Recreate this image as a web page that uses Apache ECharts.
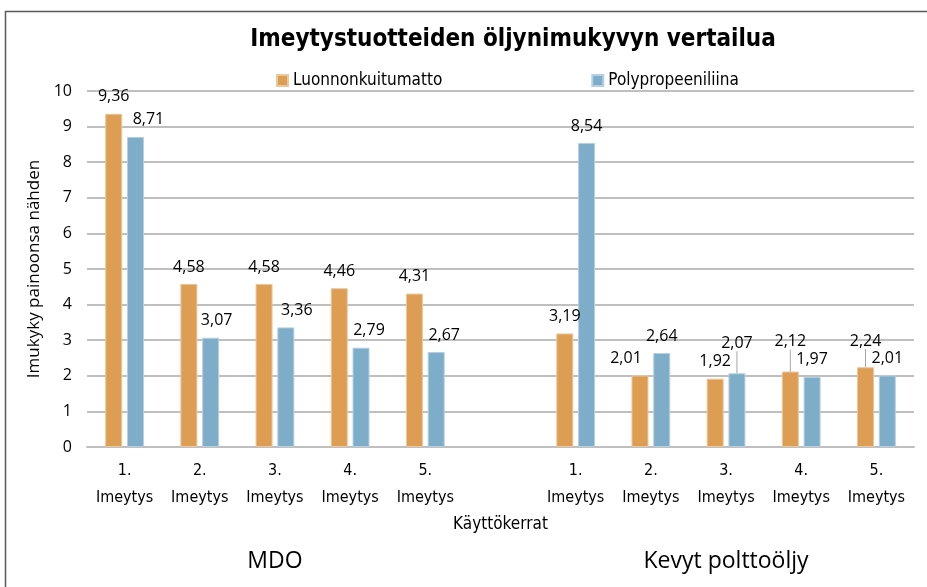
<!DOCTYPE html>
<html>
<head>
<meta charset="utf-8">
<script src="https://cdn.jsdelivr.net/npm/echarts@6/dist/echarts.min.js"></script>
<style>
  html, body { margin: 0; padding: 0; background: #fff; }
  #chart { width: 927px; height: 587px; }
</style>
</head>
<body>
<div id="chart"></div>
<script>
  // kategoriat: 5 + tyhjä väli + 5
  var categories = ['1.\nImeytys', '2.\nImeytys', '3.\nImeytys', '4.\nImeytys', '5.\nImeytys', '',
    '1.\nImeytys', '2.\nImeytys', '3.\nImeytys', '4.\nImeytys', '5.\nImeytys']
  var groupLabels = ['', '', 'MDO', '', '', '', '', '', 'Kevyt polttoöljy', '', '']
  var luonnonkuitu = [9.36, 4.58, 4.58, 4.46, 4.31, null, 3.19, 2.01, 1.92, 2.12, 2.24]
  var polypropeeni = [8.71, 3.07, 3.36, 2.79, 2.67, null, 8.54, 2.64, 2.07, 1.97, 2.01]

  var narrow = '"Liberation Sans Narrow", "DejaVu Sans Condensed", sans-serif'
  var sans = '"Open Sans", "Noto Sans", sans-serif'

  // Excelin siirtämät datatunnisteet (sarja: {indeksi: [dx, dy]}), pystysiirrolle johtoviiva
  var labelShift = {
    0: { 7: [-14, 0], 9: [0, -13], 10: [0, -9] },
    1: { 0: [13, 0], 1: [6, 0], 2: [11, 0], 3: [8, 0], 4: [8, 0], 8: [0, -13] }
  }

  var labelFmt = function (p) {
    return p.value == null ? '' : p.value.toFixed(2).replace('.', ',')
  }

  var myChart = echarts.init(document.getElementById('chart'))
  myChart.setOption({
    animation: false,
    title: {
      text: 'Imeytystuotteiden öljynimukyvyn vertailua',
      left: 508,
      textAlign: 'center',
      top: 23,
      textStyle: { fontFamily: narrow, fontWeight: 'bold', fontSize: 24, color: '#000' }
    },
    legend: {
      top: 67,
      left: 271,
      itemGap: 149,
      itemWidth: 11,
      itemHeight: 11,
      icon: 'rect',
      textStyle: { fontFamily: narrow, fontSize: 17, color: '#000' },
      data: ['Luonnonkuitumatto', 'Polypropeeniliina']
    },
    graphic: [{
      type: 'polyline',
      shape: { points: [[5.5, 600], [5.5, 11.5], [927, 11.5]] },
      style: { fill: null, stroke: '#595959', lineWidth: 1.5 },
      silent: true
    }],
    grid: { left: 87, right: 13, top: 91, bottom: 140 },
    xAxis: [{
      type: 'category',
      data: categories,
      axisTick: { show: false },
      axisLine: { lineStyle: { color: '#bfbfbf', width: 2 } },
      axisLabel: { fontFamily: narrow, fontSize: 16, color: '#000', lineHeight: 27, margin: 10, interval: 0 },
      name: 'Käyttökerrat',
      nameLocation: 'middle',
      nameGap: 69,
      nameTextStyle: { fontFamily: narrow, fontSize: 17, color: '#000' }
    }, {
      type: 'category',
      data: groupLabels,
      position: 'bottom',
      offset: 103,
      axisTick: { show: false },
      axisLine: { show: false },
      axisLabel: { fontFamily: sans, fontSize: 23, color: '#000', interval: 0, margin: 0 }
    }],
    yAxis: {
      type: 'value',
      min: 0,
      max: 10,
      interval: 1,
      axisLine: { show: false },
      axisTick: { show: false },
      axisLabel: { fontFamily: sans, fontSize: 16, color: '#000', margin: 15 },
      splitLine: { lineStyle: { color: '#bfbfbf', width: 2 } },
      name: 'Imukyky painoonsa nähden',
      nameLocation: 'middle',
      nameGap: 42,
      nameTextStyle: { fontFamily: sans, fontSize: 17, color: '#000' }
    },
    series: [luonnonkuitu, polypropeeni].map(function (values, s) {
      return {
        name: s === 0 ? 'Luonnonkuitumatto' : 'Polypropeeniliina',
        type: 'bar',
        data: values.map(function (v, i) {
          var d = labelShift[s][i]
          return d && d[1] !== 0 ? { value: v, labelLine: { show: true } } : v
        }),
        barWidth: 17,
        barGap: '28%',
        itemStyle: s === 0
          ? { color: '#dd9e54', borderColor: '#ebc79c', borderWidth: 1 }
          : { color: '#7eadca', borderColor: '#b6d0e2', borderWidth: 1 },
        label: { show: true, position: 'top', distance: 9, formatter: labelFmt, fontFamily: sans, fontSize: 16, color: '#000' },
        labelLine: { show: false, lineStyle: { color: '#a6a6a6', width: 1 } },
        labelLayout: function (p) {
          var d = labelShift[s][p.dataIndex]
          return d ? { dx: d[0], dy: d[1] } : {}
        }
      }
    })
  })
</script>
</body>
</html>
